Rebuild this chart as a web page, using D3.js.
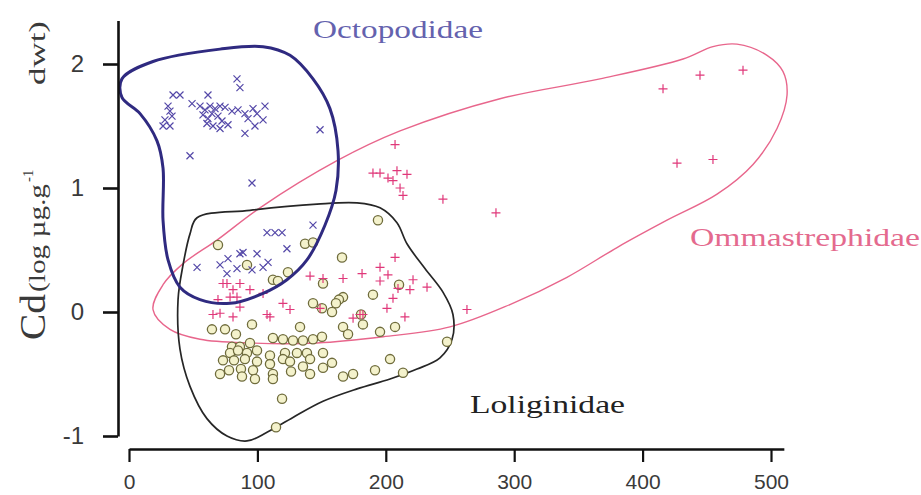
<!DOCTYPE html>
<html><head><meta charset="utf-8">
<script src="https://cdn.jsdelivr.net/npm/d3@7"></script>
<style>
html,body{margin:0;padding:0;background:#fff;}
svg{display:block;}
</style></head>
<body>
<svg id="c" width="921" height="495"></svg>
<script>
// ---- data (x: mantle length, y: Cd log µg.g-1 dwt) ----
const xTickValues = [0, 100, 200, 300, 400, 500];
const yTickValues = [-1, 0, 1, 2];
const groupNames = ["Octopodidae", "Ommastrephidae", "Loliginidae"];

const octoX = [84.1,86.4,34.3,39.7,61.5,30.4,31.9,33.5,28.0,26.5,31.9,49.1,55.3,59.2,63.1,67.0,70.9,74.8,57.6,61.5,64.6,69.3,72.4,60.7,65.4,70.9,77.1,80.2,84.9,90.3,92.7,96.6,99.7,105.9,104.4,98.1,90.3,148.8,47.5,95.8,
  107.5,113.7,119.2,143.3,123.0,53.0,70.9,77.1,86.4,88.8,99.7,84.1,76.3,95.8,104.4,108.3];
const octoY = [1.88,1.81,1.75,1.75,1.75,1.66,1.62,1.58,1.55,1.50,1.50,1.68,1.66,1.63,1.66,1.64,1.66,1.65,1.59,1.56,1.60,1.58,1.54,1.52,1.50,1.48,1.51,1.62,1.63,1.60,1.56,1.64,1.60,1.66,1.55,1.50,1.44,1.47,1.26,1.04,
  0.64,0.64,0.64,0.70,0.51,0.36,0.38,0.43,0.47,0.48,0.47,0.35,0.31,0.34,0.36,0.40];

const ommaX = [415.9,444.7,478.2,426.8,454.8,
  207.2,190.0,195.5,208.7,216.5,205.6,201.7,211.1,213.4,244.5,285.8,
  207.2,195.5,201.7,181.5,166.7,195.5,209.5,218.8,232.1,221.2,205.6,200.9,214.9,263.2,179.9,148.8,141.0,151.1,174.5,182.2,
  119.9,104.4,94.2,86.4,73.2,81.0,78.7,84.1,69.3,86.4,70.9,81.0,109.8,65.4,76.3,107.5,125.4];
const ommaY = [1.80,1.91,1.95,1.20,1.23,
  1.35,1.12,1.12,1.14,1.11,1.06,1.08,1.00,0.94,0.91,0.80,
  0.44,0.36,0.30,0.31,0.27,0.25,0.19,0.18,0.20,0.26,0.11,0.03,-0.04,0.02,-0.02,0.03,0.29,0.27,-0.05,-0.02,
  0.07,0.15,0.18,0.23,0.23,0.18,0.12,0.12,0.10,0.04,-0.01,-0.04,-0.04,-0.02,0.23,-0.02,0.02];

const loliX = [193.9,69.3,137.1,143.3,165.9,91.9,123.8,112.1,116.0,151.1,210.3,190.0,166.7,163.5,161.2,143.3,150.3,158.1,180.7,182.2,
  64.6,74.8,83.3,95.8,133.2,166.7,170.6,195.5,207.2,247.7,
  80.2,86.4,94.2,112.1,119.9,127.7,135.5,143.3,150.3,
  78.7,84.9,91.9,99.7,109.8,121.5,130.8,138.6,151.1,
  73.2,81.8,90.3,99.7,109.8,119.9,125.4,141.0,158.1,
  70.9,77.9,87.2,96.6,112.1,126.2,135.5,141.0,151.1,
  88.0,98.1,112.1,166.7,174.5,191.6,203.3,213.4,
  119.2,114.5];
const loliY = [0.74,0.54,0.55,0.56,0.44,0.38,0.32,0.26,0.25,0.23,0.22,0.14,0.12,0.10,0.07,0.07,0.03,0.00,-0.02,-0.10,
  -0.14,-0.14,-0.18,-0.10,-0.12,-0.12,-0.18,-0.16,-0.12,-0.24,
  -0.28,-0.28,-0.25,-0.21,-0.22,-0.23,-0.23,-0.22,-0.20,
  -0.33,-0.31,-0.33,-0.31,-0.35,-0.33,-0.33,-0.33,-0.33,
  -0.39,-0.39,-0.38,-0.40,-0.42,-0.38,-0.40,-0.38,-0.41,
  -0.50,-0.47,-0.46,-0.47,-0.50,-0.48,-0.44,-0.50,-0.45,
  -0.52,-0.54,-0.54,-0.52,-0.50,-0.47,-0.38,-0.49,
  -0.70,-0.93];

// enclosing outlines (data units)
const octoHullX = [-5.5,18.7,70.9,104.4,125.4,143.3,156.5,162.8,161.2,152.6,138.6,123.0,104.4,78.7,55.3,39.7,30.4,26.5,26.5,21.8,8.6,-5.5];
const octoHullY = [1.88,2.02,2.12,2.14,2.07,1.88,1.64,1.30,0.98,0.70,0.42,0.26,0.15,0.07,0.10,0.20,0.42,0.74,1.16,1.38,1.60,1.73];
const ommaHullX = [18.7,26.5,42.1,68.5,102.0,162.0,211.1,288.9,366.8,431.5,454.8,473.5,496.9,509.3,512.5,504.7,486.0,458.0,419.0,380.1,341.1,296.7,250.0,197.8,146.4,94.2,55.3,31.9];
const ommaHullY = [0.02,0.22,0.39,0.58,0.84,1.22,1.46,1.72,1.88,2.04,2.14,2.16,2.07,1.94,1.75,1.48,1.19,0.95,0.74,0.52,0.28,0.06,-0.12,-0.20,-0.25,-0.25,-0.22,-0.14];
const loliHullX = [53.0,94.2,146.4,177.6,195.5,208.7,216.5,230.5,244.5,252.3,251.6,242.2,224.3,203.3,177.6,151.1,127.7,107.5,91.9,76.3,60.7,47.5,39.7,38.2,42.1,47.5];
const loliHullY = [0.76,0.82,0.87,0.88,0.84,0.72,0.55,0.35,0.16,-0.02,-0.22,-0.37,-0.46,-0.54,-0.62,-0.72,-0.85,-0.97,-1.04,-1.00,-0.86,-0.60,-0.30,0.10,0.38,0.63];

// ---- drawing ----
const svg = d3.select("#c");
const x = d3.scaleLinear().domain([0, 510]).range([129, 129 + 510 * 1.284]);
const y = d3.scaleLinear().domain([-1, 2.35]).range([436, 436 - 3.35 * 124]);

const zip = (a, b) => a.map((v, i) => [v, b[i]]);
const hullLine = d3.line().x(d => x(d[0])).y(d => y(d[1])).curve(d3.curveCatmullRomClosed.alpha(0.5));

svg.append("path").attr("d", hullLine(zip(ommaHullX, ommaHullY)))
  .attr("fill", "none").attr("stroke", "#e8668c").attr("stroke-width", 1.4);
svg.append("path").attr("d", hullLine(zip(loliHullX, loliHullY)))
  .attr("fill", "none").attr("stroke", "#262626").attr("stroke-width", 1.7);

// points
svg.append("g").selectAll("circle").data(zip(loliX, loliY)).join("circle")
  .attr("cx", d => x(d[0])).attr("cy", d => y(d[1])).attr("r", 4.6)
  .attr("fill", "#f4f2cc").attr("stroke", "#6f6c3c").attr("stroke-width", 1.3);
svg.append("g").selectAll("path").data(zip(ommaX, ommaY)).join("path")
  .attr("transform", d => `translate(${x(d[0])},${y(d[1])})`)
  .attr("d", "M-4.5,0H4.5M0,-4.5V4.5")
  .attr("stroke", "#e0387a").attr("stroke-width", 1.2).attr("fill", "none");
svg.append("g").selectAll("path").data(zip(octoX, octoY)).join("path")
  .attr("transform", d => `translate(${x(d[0])},${y(d[1])})`)
  .attr("d", "M-3.5,-3.5L3.5,3.5M-3.5,3.5L3.5,-3.5")
  .attr("stroke", "#5448a8").attr("stroke-width", 1.2).attr("fill", "none");

svg.append("path").attr("d", hullLine(zip(octoHullX, octoHullY)))
  .attr("fill", "none").attr("stroke", "#2f2a80").attr("stroke-width", 3);

// axes
const yAxis = svg.append("g").attr("transform", "translate(118,0)")
  .call(d3.axisLeft(y).tickValues(yTickValues).tickSize(15).tickSizeOuter(0).tickPadding(19).tickFormat(d => String(d)));
yAxis.select(".domain").attr("stroke", "#111").attr("stroke-width", 2.6);
yAxis.selectAll(".tick line").attr("stroke", "#111").attr("stroke-width", 2.6);
yAxis.selectAll("text").attr("font-family", "'Liberation Sans', Arial, sans-serif").attr("font-size", 24).attr("fill", "#3a3a3a");

const xAxis = svg.append("g").attr("transform", "translate(0,449)")
  .call(d3.axisBottom(x).tickValues(xTickValues).tickSize(13).tickSizeOuter(0).tickPadding(12).tickFormat(d => String(d)));
xAxis.select(".domain").attr("stroke", "#111").attr("stroke-width", 2.6);
xAxis.selectAll(".tick line").attr("stroke", "#111").attr("stroke-width", 2.2);
xAxis.selectAll("text").attr("font-family", "'Liberation Sans Narrow', 'Liberation Sans', sans-serif").attr("font-size", 21).attr("fill", "#3a3a3a");

// y axis title
const yt = svg.append("g").attr("transform", "translate(45,340) rotate(-90)")
  .attr("font-family", "'Liberation Serif', 'Times New Roman', serif").attr("fill", "#3a3a3a");
yt.append("text").attr("x", 0).attr("y", 0).attr("font-size", 36).attr("textLength", 46).attr("lengthAdjust", "spacingAndGlyphs").text("Cd");
yt.append("text").attr("x", 48).attr("y", 0).attr("font-size", 24).attr("textLength", 108).attr("lengthAdjust", "spacingAndGlyphs").text("(log µg.g");
yt.append("text").attr("x", 158).attr("y", -12).attr("font-size", 15).text("-1");
yt.append("text").attr("x", 255).attr("y", 0).attr("font-size", 24).attr("textLength", 64).attr("lengthAdjust", "spacingAndGlyphs").text("dwt)");

// group labels
const lab = svg.append("g").attr("font-family", "'Liberation Serif', 'Times New Roman', serif").attr("font-size", 25);
lab.append("text").attr("x", 313).attr("y", 38).attr("textLength", 170).attr("lengthAdjust", "spacingAndGlyphs").attr("fill", "#6462ae").text(groupNames[0]);
lab.append("text").attr("x", 690).attr("y", 246).attr("textLength", 230).attr("lengthAdjust", "spacingAndGlyphs").attr("fill", "#e46a8e").text(groupNames[1]);
lab.append("text").attr("x", 470).attr("y", 413).attr("textLength", 155).attr("lengthAdjust", "spacingAndGlyphs").attr("fill", "#222").text(groupNames[2]);
</script>
</body></html>
